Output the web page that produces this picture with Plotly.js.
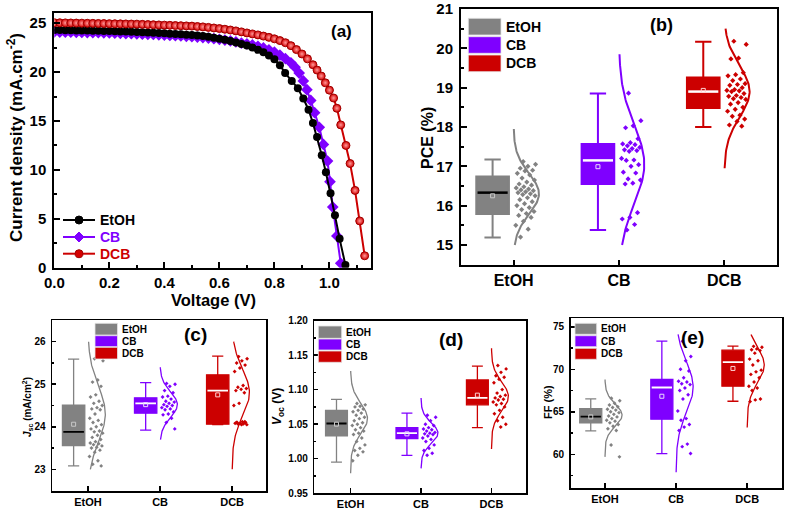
<!DOCTYPE html>
<html><head><meta charset="utf-8">
<script src="https://cdn.plot.ly/plotly-3.0.1.min.js"></script>
<style>html,body{margin:0;padding:0;background:#fff}#chart{width:785px;height:510px}</style>
</head><body><div id="chart"></div>
<script>
// ---------- Panel (a): J-V curves ----------
const V_EtOH = [0,0.02,0.04,0.06,0.08,0.10,0.12,0.14,0.16,0.18,0.20,0.22,0.24,0.26,0.28,0.30,0.32,0.34,0.36,0.38,0.40,0.42,0.44,0.46,0.48,0.50,0.52,0.54,0.56,0.58,0.60,0.62,0.64,0.66,0.68,0.70,0.72,0.74,0.76,0.78,0.80,0.82,0.839,0.863,0.885,0.905,0.924,0.940,0.955,0.972,0.987,1.004,1.020,1.037,1.058];
const J_EtOH = [24.30,24.29,24.28,24.27,24.26,24.25,24.24,24.23,24.22,24.21,24.20,24.18,24.16,24.14,24.12,24.10,24.08,24.05,24.02,23.99,23.96,23.93,23.90,23.86,23.82,23.78,23.73,23.68,23.61,23.52,23.42,23.30,23.17,23.03,22.88,22.71,22.51,22.28,22.02,21.70,21.30,20.70,19.90,19.10,18.35,17.30,16.15,14.80,13.35,11.50,9.75,7.60,5.35,2.95,0.28];
const V_CB = [0,0.02,0.04,0.06,0.08,0.10,0.12,0.14,0.16,0.18,0.20,0.22,0.24,0.26,0.28,0.30,0.32,0.34,0.36,0.38,0.40,0.42,0.44,0.46,0.48,0.50,0.52,0.54,0.56,0.58,0.60,0.62,0.64,0.66,0.68,0.70,0.72,0.74,0.76,0.78,0.80,0.82,0.84,0.86,0.875,0.89,0.905,0.918,0.932,0.946,0.963,0.978,0.993,1.002,1.012,1.027,1.041];
const J_CB = [24.10,24.09,24.08,24.07,24.06,24.05,24.04,24.03,24.02,24.01,24.00,23.98,23.96,23.94,23.92,23.90,23.88,23.86,23.84,23.81,23.78,23.75,23.72,23.69,23.66,23.62,23.58,23.53,23.48,23.42,23.35,23.27,23.18,23.08,22.97,22.88,22.78,22.64,22.47,22.27,22.03,21.73,21.37,20.95,20.50,19.90,19.10,18.20,17.10,15.85,14.35,12.60,10.90,8.80,6.20,3.25,0.45];
const V_DCB = [0,0.02,0.04,0.06,0.08,0.10,0.12,0.14,0.16,0.18,0.20,0.22,0.24,0.26,0.28,0.30,0.32,0.34,0.36,0.38,0.40,0.42,0.44,0.46,0.48,0.50,0.52,0.54,0.56,0.58,0.60,0.62,0.64,0.66,0.68,0.70,0.72,0.74,0.76,0.78,0.80,0.82,0.84,0.86,0.88,0.90,0.92,0.94,0.955,0.97,0.985,1.000,1.015,1.027,1.041,1.060,1.075,1.093,1.110,1.128];
const J_DCB = [25.05,25.04,25.03,25.02,25.01,25.00,24.99,24.98,24.97,24.96,24.95,24.94,24.93,24.92,24.91,24.90,24.88,24.86,24.84,24.82,24.80,24.78,24.76,24.74,24.72,24.70,24.66,24.62,24.57,24.51,24.45,24.38,24.30,24.21,24.11,24.00,23.90,23.80,23.68,23.55,23.40,23.22,23.00,22.70,22.30,21.85,21.35,20.75,20.20,19.60,18.90,18.15,17.35,16.30,14.60,12.50,10.65,7.90,4.78,1.22];

// ---------- Categories ----------
const groups = ['EtOH','CB','DCB'];

// ---------- Panel (b): PCE (%) ----------
const pce_q1 = [15.79,16.55,18.48], pce_med = [16.33,17.15,18.90], pce_q3 = [16.74,17.57,19.26];
const pce_lo = [15.19,15.38,18.00], pce_hi = [17.17,18.85,20.17], pce_mean = [16.25,16.99,18.93];
const pce_EtOH = [17.12,17.05,17.0,16.95,16.9,16.88,16.82,16.78,16.7,16.65,16.6,16.55,16.52,16.48,16.45,16.42,16.4,16.38,16.35,16.33,16.3,16.28,16.25,16.2,16.15,16.1,16.05,16.0,15.95,15.9,15.85,15.8,15.75,15.7,15.6,15.5,15.4,15.2];
const pce_CB = [18.86,18.16,18.03,17.98,17.7,17.6,17.57,17.55,17.52,17.48,17.45,17.42,17.40,17.38,17.2,17.16,17.15,17.04,17.0,16.85,16.83,16.68,16.65,16.57,16.55,15.82,15.70,15.66,15.52,15.38];
const pce_DCB = [20.18,20.1,19.75,19.73,19.38,19.33,19.3,19.22,19.18,19.1,19.08,19.06,19.0,18.95,18.93,18.92,18.9,18.85,18.8,18.78,18.75,18.72,18.7,18.62,18.58,18.5,18.45,18.4,18.3,18.27,18.2,18.14,18.05,18.02];
const pce_curve_mu = [16.3,17.05,18.9], pce_curve_sd = [0.52,1.0,0.65], pce_curve_lo = [15.0,15.0,16.95], pce_curve_hi = [17.95,19.85,20.5];

// ---------- Panel (c): Jsc ----------
const jsc_q1 = [23.56,24.32,24.06], jsc_med = [23.88,24.55,24.85], jsc_q3 = [24.51,24.68,25.22];
const jsc_lo = [23.08,23.92,24.05], jsc_hi = [25.59,25.04,25.66], jsc_mean = [24.06,24.52,24.75];
const jsc_EtOH = [25.6,25.55,25.1,25.05,24.95,24.75,24.7,24.6,24.55,24.5,24.45,24.42,24.4,24.3,24.2,24.15,24.1,24.05,24.0,23.95,23.9,23.88,23.85,23.8,23.75,23.7,23.65,23.62,23.6,23.58,23.55,23.52,23.5,23.45,23.4,23.3,23.2,23.12,23.08];
const jsc_CB = [25.02,25.0,24.95,24.85,24.8,24.72,24.7,24.65,24.6,24.58,24.55,24.52,24.5,24.48,24.45,24.42,24.4,24.35,24.3,24.28,24.2,24.1,23.95];
const jsc_DCB = [25.65,25.6,25.55,25.5,25.45,25.38,25.3,24.97,24.93,24.9,24.88,24.85,24.8,24.55,24.5,24.12,24.1,24.1,24.08,24.08,24.07,24.06,24.05,24.05,24.1,24.12];
const jsc_curve_mu = [24.3,24.52,24.8], jsc_curve_sd = [0.65,0.3,0.55], jsc_curve_lo = [23.0,23.7,23.0], jsc_curve_hi = [26.0,25.4,26.0];

// ---------- Panel (d): Voc ----------
const voc_q1 = [1.033,1.029,1.078], voc_med = [1.051,1.037,1.088], voc_q3 = [1.070,1.045,1.114];
const voc_lo = [0.995,1.005,1.045], voc_hi = [1.086,1.066,1.134], voc_mean = [1.050,1.036,1.092];
const voc_EtOH = [1.080,1.078,1.076,1.075,1.072,1.07,1.068,1.066,1.063,1.06,1.058,1.055,1.052,1.05,1.048,1.045,1.042,1.04,1.037,1.035,1.03,1.025,1.02,1.015,1.012,1.01,1.005,0.997];
const voc_CB = [1.063,1.06,1.055,1.05,1.048,1.045,1.043,1.042,1.04,1.038,1.037,1.036,1.035,1.033,1.03,1.028,1.025,1.02,1.015,1.012,1.008,1.005];
const voc_DCB = [1.135,1.13,1.125,1.12,1.118,1.115,1.11,1.1,1.095,1.092,1.09,1.088,1.086,1.085,1.082,1.08,1.078,1.075,1.07,1.065,1.06,1.055,1.05,1.046];
const voc_curve_mu = [1.058,1.037,1.09], voc_curve_sd = [0.022,0.015,0.021], voc_curve_lo = [0.979,0.986,1.014], voc_curve_hi = [1.127,1.088,1.16];

// ---------- Panel (e): FF ----------
const ff_q1 = [63.69,64.13,68.01], ff_med = [64.44,67.86,70.84], ff_q3 = [65.38,68.80,72.25];
const ff_lo = [62.75,60.08,66.24], ff_hi = [66.52,73.31,72.73], ff_mean = [64.4,66.83,70.1];
const ff_EtOH = [66.6,66.3,66.0,65.8,65.6,65.5,65.3,65.2,65.0,64.9,64.7,64.5,64.4,64.2,64.0,63.9,63.7,63.5,63.3,63.0,62.8,61.1,59.7];
const ff_CB = [73.3,71.5,71.0,70.0,69.8,69.0,68.6,68.5,68.3,68.2,67.8,67.5,67.0,66.5,65.1,64.2,64.0,63.5,63.2,62.8,61.2,60.9,60.1];
const ff_DCB = [72.7,72.6,72.4,72.3,72.2,71.9,71.2,71.0,70.5,69.9,69.7,69.4,69.0,68.5,68.0,67.8,67.5,66.5,66.4,66.2];
const ff_curve_mu = [64.6,67.9,70.5], ff_curve_sd = [1.3,3.0,2.1], ff_curve_lo = [59.7,57.9,63.15], ff_curve_hi = [68.8,74.1,74.1];

// ---------- styling ----------
const W = 785, H = 510;
const PX = x => x / W, PY = y => 1 - y / H;
const FONT = 'Liberation Sans, Arial, sans-serif';
const COL = ['#828282', '#7f00ff', '#cc0000'];
const JV_COL = ['#000000', '#7f00ff', '#cc0000'];
const MED_COL = ['#000000', '#ffffff', '#ffffff'];
const MEAN_COL = ['#c8c8c8', '#e8d8ff', '#ffd0d0'];
const BOX_OFF = -0.2, BOX_W = 0.31, CURVE_W = 0.24;

const traces = [];
// J-V curves (CB drawn first, then EtOH, then DCB on top)
traces.push({type:'scatter', mode:'lines+markers', x:V_CB, y:J_CB, name:'CB',
  line:{color:JV_COL[1], width:2}, marker:{symbol:'diamond', size:9, color:JV_COL[1]}, xaxis:'x', yaxis:'y', showlegend:false});
traces.push({type:'scatter', mode:'lines+markers', x:V_EtOH, y:J_EtOH, name:'EtOH',
  line:{color:JV_COL[0], width:2}, marker:{symbol:'circle', size:8, color:JV_COL[0]}, xaxis:'x', yaxis:'y', showlegend:false});
traces.push({type:'scatter', mode:'lines+markers', x:V_DCB, y:J_DCB, name:'DCB',
  line:{color:JV_COL[2], width:2}, marker:{symbol:'circle', size:8, color:'#d40000', gradient:{type:'radial', color:'#ff9a9a'}, line:{color:'#a00000', width:1}}, xaxis:'x', yaxis:'y', showlegend:false});

function addPanel(n, q1, med, q3, lo, hi, mean, pts, mu, sd, clo, chi, ptSize, lw) {
  const xa = 'x' + n, ya = 'y' + n;
  for (let i = 0; i < 3; i++) {
    const pos = i + BOX_OFF;
    traces.push({type:'box', x:[pos], q1:[q1[i]], median:[med[i]], q3:[q3[i]], lowerfence:[lo[i]], upperfence:[hi[i]],
      width:BOX_W, whiskerwidth:0.5, fillcolor:COL[i], line:{color:COL[i], width:lw}, boxpoints:false,
      xaxis:xa, yaxis:ya, showlegend:false, hoverinfo:'skip'});
    traces.push({type:'scatter', mode:'lines', x:[pos - BOX_W/2 + 0.012, pos + BOX_W/2 - 0.012], y:[med[i], med[i]],
      line:{color:MED_COL[i], width:lw + 0.5}, xaxis:xa, yaxis:ya, showlegend:false, hoverinfo:'skip'});
    traces.push({type:'scatter', mode:'markers', x:[pos], y:[mean[i]],
      marker:{symbol:'square-open', size:4, color:MEAN_COL[i], line:{width:1}}, xaxis:xa, yaxis:ya, showlegend:false, hoverinfo:'skip'});
    const p = pts[i];
    traces.push({type:'scatter', mode:'markers', x:p.map((v, k) => i + 0.02 + 0.19 * ((k * 0.618034 + 0.37) % 1)), y:p,
      marker:{symbol:'diamond', size:ptSize, color:COL[i]}, xaxis:xa, yaxis:ya, showlegend:false, hoverinfo:'skip'});
    const xs = [], ys = [];
    for (let k = 0; k <= 100; k++) {
      const y = clo[i] + (chi[i] - clo[i]) * k / 100;
      ys.push(y);
      xs.push(i + CURVE_W * Math.exp(-0.5 * Math.pow((y - mu[i]) / sd[i], 2)));
    }
    traces.push({type:'scatter', mode:'lines', x:xs, y:ys, line:{color:COL[i], width:lw},
      xaxis:xa, yaxis:ya, showlegend:false, hoverinfo:'skip'});
  }
}
addPanel(2, pce_q1, pce_med, pce_q3, pce_lo, pce_hi, pce_mean, [pce_EtOH, pce_CB, pce_DCB], pce_curve_mu, pce_curve_sd, pce_curve_lo, pce_curve_hi, 4, 2);
addPanel(3, jsc_q1, jsc_med, jsc_q3, jsc_lo, jsc_hi, jsc_mean, [jsc_EtOH, jsc_CB, jsc_DCB], jsc_curve_mu, jsc_curve_sd, jsc_curve_lo, jsc_curve_hi, 3, 1.3);
addPanel(4, voc_q1, voc_med, voc_q3, voc_lo, voc_hi, voc_mean, [voc_EtOH, voc_CB, voc_DCB], voc_curve_mu, voc_curve_sd, voc_curve_lo, voc_curve_hi, 3, 1.3);
addPanel(5, ff_q1, ff_med, ff_q3, ff_lo, ff_hi, ff_mean, [ff_EtOH, ff_CB, ff_DCB], ff_curve_mu, ff_curve_sd, ff_curve_lo, ff_curve_hi, 3, 1.3);

function tf(size) { return {family:FONT, size:size, color:'#000', weight:'bold'}; }
function axBase(lw) {
  return {showline:true, linecolor:'#000', linewidth:lw, mirror:true, ticks:'inside', tickcolor:'#000',
    tickwidth:lw, showgrid:false, zeroline:false, fixedrange:true};
}
function catAxis(dom, range, anchor, size, lw) {
  return Object.assign(axBase(lw), {domain:dom, range:range, anchor:anchor, tickvals:[0,1,2], ticktext:groups,
    ticklen:5, tickfont:tf(size)});
}
function valAxis(dom, range, anchor, dtick, minor, fmt, size, lw) {
  return Object.assign(axBase(lw), {domain:dom, range:range, anchor:anchor, dtick:dtick, tick0:0, tickformat:fmt,
    ticklen:lw > 1.5 ? 6 : 4, tickfont:tf(size), ticklabelstandoff:3,
    minor:{ticks:'inside', ticklen:lw > 1.5 ? 3 : 2, dtick:minor, tick0:0, tickcolor:'#000', tickwidth:lw}});
}

const layout = {
  width:W, height:H, margin:{l:0, r:0, t:0, b:0}, paper_bgcolor:'#fff', plot_bgcolor:'#fff',
  font:{family:FONT, color:'#000'}, boxmode:'overlay', showlegend:false,
  xaxis: Object.assign(axBase(2), {domain:[PX(54.3), PX(371)], range:[0, 1.151], anchor:'y', dtick:0.2, tick0:0,
    tickformat:'.1f', ticklen:6, tickfont:tf(15),
    minor:{ticks:'inside', ticklen:3, dtick:0.1, tick0:0, tickcolor:'#000', tickwidth:2}}),
  yaxis: valAxis([PY(267.7), PY(13)], [0, 26.04], 'x', 5, 2.5, '', 15, 2),
  xaxis2: catAxis([PX(461), PX(777)], [-0.5, 2.5], 'y2', 16, 2),
  yaxis2: valAxis([PY(265), PY(9)], [14.49, 21.0], 'x2', 1, 0.5, '', 15, 2),
  xaxis3: catAxis([PX(52), PX(266)], [-0.5, 2.47], 'y3', 11, 1.5),
  yaxis3: valAxis([PY(491), PY(320)], [22.49, 26.51], 'x3', 1, 0.5, '', 10, 1.5),
  xaxis4: catAxis([PX(314.3), PX(526)], [-0.515, 2.49], 'y4', 11, 1.5),
  yaxis4: valAxis([PY(493.3), PY(320.5)], [0.95, 1.2], 'x4', 0.05, 0.025, '.2f', 10, 1.5),
  xaxis5: catAxis([PX(570.7), PX(782)], [-0.482, 2.49], 'y5', 11, 1.5),
  yaxis5: valAxis([PY(488.3), PY(318.3)], [56, 76], 'x5', 5, 2.5, '', 10, 1.5),
  shapes:[], annotations:[]
};

function ann(text, x, y, size, opts) {
  layout.annotations.push(Object.assign({text:text, xref:'paper', yref:'paper', x:PX(x), y:PY(y), showarrow:false,
    xanchor:'center', yanchor:'middle', font:{family:FONT, size:size, color:'#000', weight:'bold'}}, opts || {}));
}
// axis titles
ann('Voltage (V)', 213, 300, 16.5);
ann('Current density (mA.cm<sup>-2</sup>)', 15, 138, 17, {textangle:-90});
ann('PCE (%)', 428, 138, 16, {textangle:-90});
ann('<i>J</i><sub>sc</sub> (mA/cm<sup>2</sup>)', 27, 407, 10, {textangle:-90});
ann('<i>V</i><sub>oc</sub> (V)', 278, 407, 12, {textangle:-90});
ann('FF (%)', 548, 402, 11, {textangle:-90});
// panel labels
ann('(a)', 341, 31.5, 17);
ann('(b)', 661.5, 25, 18);
ann('(c)', 195, 334, 19);
ann('(d)', 450.5, 339, 19);
ann('(e)', 692.5, 337.5, 19);

// legend of panel (a): line + marker + coloured label
const legY = [220, 237, 253.7];
legY.forEach((y, i) => {
  layout.shapes.push({type:'line', xref:'paper', yref:'paper', x0:PX(63), x1:PX(95), y0:PY(y), y1:PY(y),
    line:{color:JV_COL[i], width:2}});
  if (i === 1) {
    const cx = 79, r = 5;
    layout.shapes.push({type:'path', xref:'paper', yref:'paper',
      path:`M ${PX(cx-r)} ${PY(y)} L ${PX(cx)} ${PY(y-r)} L ${PX(cx+r)} ${PY(y)} L ${PX(cx)} ${PY(y+r)} Z`,
      fillcolor:JV_COL[1], line:{color:JV_COL[1], width:1}});
  } else {
    layout.shapes.push({type:'circle', xref:'paper', yref:'paper', x0:PX(75), x1:PX(83), y0:PY(y+4), y1:PY(y-4),
      fillcolor:i === 0 ? '#000' : '#d40000', line:{color:i === 0 ? '#000' : '#a00000', width:1}});
  }
  ann(groups[i], 97.5, y, 14, {xanchor:'left', font:{family:FONT, size:14, color:JV_COL[i], weight:'bold'}});
});

// box legends (panels b-e)
function boxLegend(x0, x1, rows, tx, size) {
  rows.forEach((r, i) => {
    layout.shapes.push({type:'rect', xref:'paper', yref:'paper', x0:PX(x0), x1:PX(x1), y0:PY(r[1]), y1:PY(r[0]),
      fillcolor:COL[i], line:{color:'#e6e6e6', width:0.8}});
    ann(groups[i], tx, (r[0] + r[1]) / 2, size, {xanchor:'left'});
  });
}
boxLegend(468.3, 501, [[18.3, 35], [36.7, 53.3], [55, 71.7]], 504, 14);
boxLegend(95, 117.5, [[323.3, 335], [335.7, 346.7], [347.3, 359]], 119.5, 10);
boxLegend(318.3, 341.7, [[326, 338.3], [339, 350], [351, 362.3]], 343.5, 10);
boxLegend(575, 596.7, [[323.3, 334.3], [335.7, 346.7], [348.3, 359.3]], 598.5, 10);

Plotly.newPlot('chart', traces, layout, {staticPlot:true, displayModeBar:false});
</script></body></html>
